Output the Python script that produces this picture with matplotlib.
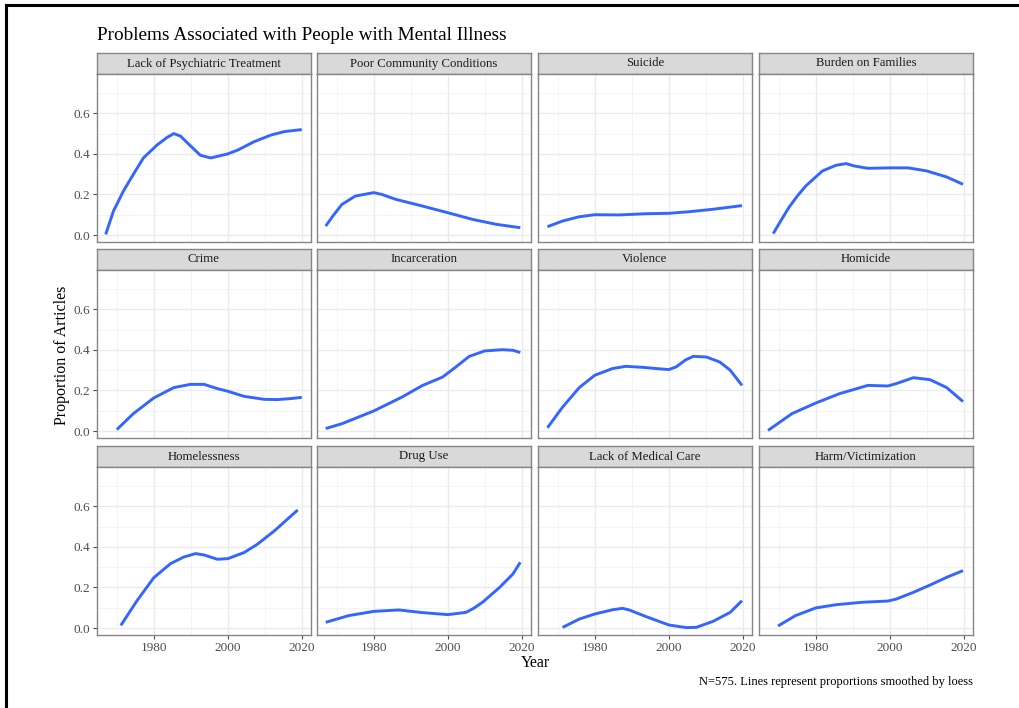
import matplotlib.pyplot as plt
from matplotlib.lines import Line2D

plt.rcParams['font.family'] = ['Liberation Serif', 'DejaVu Serif']

# smoothed proportions per problem (year, proportion)
psych_x = [1967.0, 1969.1, 1971.8, 1974.5, 1977.2, 1980.9, 1983.5, 1985.4, 1987.2, 1989.9, 1992.6, 1995.4, 2000.0, 2002.6, 2007.1, 2011.7, 2015.3, 2020.0]
psych_y = [0.003, 0.118, 0.217, 0.300, 0.380, 0.444, 0.480, 0.500, 0.488, 0.440, 0.393, 0.380, 0.400, 0.418, 0.460, 0.493, 0.510, 0.520]

community_x = [1967.0, 1969.2, 1971.4, 1975.0, 1980.0, 1982.2, 1985.9, 1993.1, 2000.0, 2006.7, 2013.0, 2019.6]
community_y = [0.044, 0.100, 0.151, 0.192, 0.209, 0.200, 0.176, 0.143, 0.110, 0.077, 0.053, 0.036]

suicide_x = [1967.2, 1971.3, 1975.8, 1980.0, 1986.6, 1993.9, 2000.0, 2005.6, 2012.0, 2019.8]
suicide_y = [0.041, 0.069, 0.090, 0.100, 0.099, 0.105, 0.107, 0.115, 0.127, 0.145]

burden_x = [1968.5, 1970.5, 1972.7, 1975.0, 1977.3, 1981.8, 1985.5, 1988.2, 1990.5, 1994.1, 2000.0, 2005.0, 2010.0, 2015.4, 2019.8]
burden_y = [0.007, 0.069, 0.135, 0.192, 0.242, 0.316, 0.344, 0.352, 0.340, 0.329, 0.331, 0.331, 0.316, 0.286, 0.250]

crime_x = [1970.0, 1974.5, 1980.0, 1985.4, 1989.9, 1993.6, 1997.2, 2000.0, 2004.4, 2009.9, 2013.5, 2017.1, 2020.0]
crime_y = [0.007, 0.086, 0.163, 0.214, 0.230, 0.230, 0.209, 0.196, 0.171, 0.156, 0.155, 0.160, 0.166]

jail_x = [1967.0, 1971.4, 1980.0, 1987.7, 1993.1, 1998.6, 2002.2, 2005.8, 2010.0, 2014.8, 2017.6, 2019.6]
jail_y = [0.012, 0.036, 0.099, 0.168, 0.224, 0.266, 0.316, 0.368, 0.395, 0.401, 0.398, 0.387]

violence_x = [1967.2, 1971.3, 1975.8, 1980.0, 1984.8, 1988.4, 1993.0, 1996.6, 2000.0, 2002.0, 2004.5, 2006.6, 2010.2, 2013.8, 2016.6, 2019.8]
violence_y = [0.016, 0.118, 0.214, 0.275, 0.308, 0.319, 0.314, 0.308, 0.303, 0.316, 0.350, 0.368, 0.365, 0.340, 0.300, 0.225]

homicide_x = [1967.1, 1973.6, 1980.0, 1986.4, 1994.1, 1999.5, 2001.8, 2006.4, 2010.9, 2015.4, 2019.8]
homicide_y = [0.003, 0.086, 0.138, 0.184, 0.225, 0.222, 0.234, 0.263, 0.253, 0.214, 0.145]

homeless_x = [1971.1, 1975.4, 1980.0, 1984.5, 1988.1, 1991.3, 1993.6, 1997.2, 2000.0, 2004.4, 2008.0, 2012.6, 2018.9]
homeless_y = [0.013, 0.133, 0.248, 0.317, 0.350, 0.367, 0.360, 0.339, 0.342, 0.372, 0.413, 0.479, 0.582]

drug_x = [1967.0, 1973.2, 1980.0, 1986.8, 1993.1, 2000.0, 2004.9, 2007.0, 2009.4, 2014.0, 2017.6, 2019.6]
drug_y = [0.028, 0.061, 0.082, 0.089, 0.076, 0.066, 0.077, 0.097, 0.127, 0.200, 0.266, 0.324]

medical_x = [1971.3, 1975.8, 1980.0, 1984.8, 1987.5, 1989.3, 1993.9, 2000.0, 2004.7, 2007.4, 2012.0, 2016.6, 2019.8]
medical_y = [0.003, 0.044, 0.069, 0.090, 0.097, 0.089, 0.056, 0.015, 0.002, 0.003, 0.033, 0.077, 0.135]

harm_x = [1969.8, 1974.5, 1980.0, 1985.5, 1992.7, 1999.5, 2001.8, 2006.4, 2010.9, 2015.4, 2019.8]
harm_y = [0.010, 0.061, 0.099, 0.115, 0.127, 0.133, 0.143, 0.176, 0.212, 0.250, 0.283]

titles = ['Lack of Psychiatric Treatment', 'Poor Community Conditions', 'Suicide', 'Burden on Families',
          'Crime', 'Incarceration', 'Violence', 'Homicide',
          'Homelessness', 'Drug Use', 'Lack of Medical Care', 'Harm/Victimization']
series = [(psych_x, psych_y), (community_x, community_y), (suicide_x, suicide_y), (burden_x, burden_y),
          (crime_x, crime_y), (jail_x, jail_y), (violence_x, violence_y), (homicide_x, homicide_y),
          (homeless_x, homeless_y), (drug_x, drug_y), (medical_x, medical_y), (harm_x, harm_y)]

W, H = 1020, 708
fig = plt.figure(figsize=(W / 100, H / 100), dpi=100)

def box(x, y, w, h):
    # pixel box (from top-left) -> figure fraction
    return [x / W, 1 - (y + h) / H, w / W, h / H]

col_x = [97, 317, 538, 759]
strip_y = [53, 249, 446]
pw, strip_h, ph = 214, 21, 168
border = '#858585'

for i, (name, (xs, ys)) in enumerate(zip(titles, series)):
    r, c = divmod(i, 4)
    x0, y0 = col_x[c], strip_y[r]

    st = fig.add_axes(box(x0, y0, pw, strip_h))
    st.set_facecolor('#D9D9D9')
    st.set_xticks([])
    st.set_yticks([])
    for sp in st.spines.values():
        sp.set_color(border)
        sp.set_linewidth(1.0)
    st.text(0.5, 0.5, name, ha='center', va='center', fontsize=9.2, color='#1A1A1A',
            transform=st.transAxes)

    ax = fig.add_axes(box(x0, y0 + strip_h, pw, ph))
    ax.set_xlim(1964.65, 2022.5)
    ax.set_ylim(-0.0345, 0.794)
    ax.set_xticks([1980, 2000, 2020])
    ax.set_xticks([1970, 1990, 2010], minor=True)
    ax.set_yticks([0.0, 0.2, 0.4, 0.6])
    ax.set_yticks([0.1, 0.3, 0.5, 0.7], minor=True)
    ax.grid(which='major', color='#EBEBEB', linewidth=1.0)
    ax.grid(which='minor', color='#F2F2F2', linewidth=0.6)
    ax.set_axisbelow(True)
    ax.tick_params(which='minor', length=0)
    ax.tick_params(which='major', length=3, width=0.8, color='#4D4D4D',
                   labelsize=9.5, labelcolor='#4D4D4D', pad=2)
    if c == 0:
        ax.set_yticklabels(['0.0', '0.2', '0.4', '0.6'])
    else:
        ax.tick_params(axis='y', left=False, labelleft=False)
    if r < 2:
        ax.tick_params(axis='x', bottom=False, labelbottom=False)
    for sp in ax.spines.values():
        sp.set_color(border)
        sp.set_linewidth(1.0)

    ax.plot(xs, ys, color='#3366FF', linewidth=2.1, solid_joinstyle='round',
            solid_capstyle='butt')

fig.text(97 / W, 1 - 36 / H, 'Problems Associated with People with Mental Illness',
         fontsize=13.9, ha='left', va='center', color='black')
fig.text(62 / W, 1 - 355 / H, 'Proportion of Articles', rotation=90,
         fontsize=11.5, ha='center', va='center', color='black')
fig.text(535 / W, 1 - 663 / H, 'Year', fontsize=11.5, ha='center', va='center', color='black')
fig.text(973 / W, 1 - 682 / H, 'N=575. Lines represent proportions smoothed by loess',
         fontsize=9, ha='right', va='center', color='black')

# black frame along top and left edges
fig.add_artist(Line2D([6 / W, 1], [1 - 5 / H, 1 - 5 / H], color='black', linewidth=2.2))
fig.add_artist(Line2D([6 / W, 6 / W], [0, 1 - 5 / H], color='black', linewidth=2.2))

fig.savefig('out.png', dpi=100, facecolor='white')
